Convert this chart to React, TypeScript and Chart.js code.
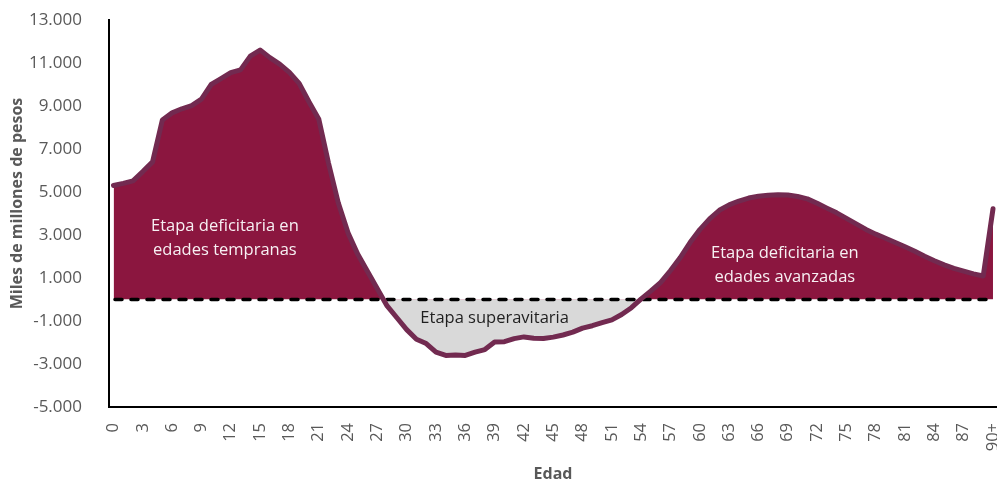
import { useEffect, useRef } from 'react';
import { Chart, registerables } from 'chart.js';

Chart.register(...registerables);

// Edad simple (0 a 90+)
const edades = [
  0, 1, 2, 3, 4, 5, 6, 7, 8, 9, 10, 11, 12, 13, 14, 15, 16, 17, 18, 19,
  20, 21, 22, 23, 24, 25, 26, 27, 28, 29, 30, 31, 32, 33, 34, 35, 36, 37, 38, 39,
  40, 41, 42, 43, 44, 45, 46, 47, 48, 49, 50, 51, 52, 53, 54, 55, 56, 57, 58, 59,
  60, 61, 62, 63, 64, 65, 66, 67, 68, 69, 70, 71, 72, 73, 74, 75, 76, 77, 78, 79,
  80, 81, 82, 83, 84, 85, 86, 87, 88, 89, 90,
];

// Déficit del ciclo de vida (miles de millones de pesos)
const saldo = [
  5300, 5400, 5520, 5950, 6400, 8350, 8680, 8870, 9020, 9320,
  10000, 10270, 10550, 10680, 11320, 11600, 11250, 10950, 10560, 10050,
  9200, 8400, 6350, 4500, 3100, 2100, 1300, 500, -300, -850,
  -1400, -1850, -2050, -2450, -2600, -2580, -2600, -2450, -2330, -1980,
  -1960, -1820, -1740, -1800, -1810, -1750, -1650, -1520, -1330, -1220,
  -1080, -950, -700, -380, 30, 400, 800, 1350, 1950, 2650,
  3250, 3750, 4150, 4400, 4580, 4720, 4800, 4850, 4870, 4860,
  4790, 4680, 4480, 4250, 4030, 3770, 3520, 3260, 3040, 2850,
  2650, 2450, 2240, 2010, 1800, 1610, 1450, 1320, 1190, 1090,
  4220,
];

// Marcas del eje X
const marcasEdad = [
  0, 3, 6, 9, 12, 15, 18, 21, 24, 27, 30, 33, 36, 39, 42, 45,
  48, 51, 54, 57, 60, 63, 66, 69, 72, 75, 78, 81, 84, 87, 90,
];
const etiquetaUltimaEdad = '90+';

// Eje Y
const yMin = -5000;
const yMax = 13000;
const yPaso = 2000;

const tituloY = 'Miles de millones de pesos';

const textos = [
  { lineas: ['Etapa deficitaria en', 'edades tempranas'], edad: 11.4, valor: 3410, color: '#F7F0F3' },
  { lineas: ['Etapa superavitaria'], edad: 39.0, valor: -870, color: '#1F1F1F' },
  { lineas: ['Etapa deficitaria en', 'edades avanzadas'], edad: 68.7, valor: 2170, color: '#F7F0F3' },
];

const FONT = "'Open Sans', 'Noto Sans', sans-serif";

function formatoMiles(v: number): string {
  const s = Math.abs(Math.round(v)).toString().replace(/\B(?=(\d{3})+(?!\d))/g, '.');
  return (v < 0 ? '-' : '') + s;
}

const lineaCero = {
  id: 'lineaCero',
  beforeDatasetsDraw(chart: any) {
    const { ctx, scales } = chart;
    const x = scales.x;
    const y = scales.y;
    const py = y.getPixelForValue(0);
    ctx.save();
    ctx.strokeStyle = '#000000';
    ctx.lineWidth = 3.5;
    ctx.lineCap = 'round';
    ctx.setLineDash([7, 9]);
    ctx.beginPath();
    ctx.moveTo(x.getPixelForValue(edades[0]) + 1.5, py);
    ctx.lineTo(x.getPixelForValue(edades[edades.length - 1]), py);
    ctx.stroke();
    ctx.restore();
  },
};

const anotaciones = {
  id: 'anotaciones',
  afterDatasetsDraw(chart: any) {
    const { ctx, scales } = chart;
    const x = scales.x;
    const y = scales.y;
    ctx.save();
    ctx.font = `16.5px ${FONT}`;
    ctx.textAlign = 'center';
    ctx.textBaseline = 'middle';
    for (const t of textos) {
      const px = x.getPixelForValue(t.edad);
      const py = y.getPixelForValue(t.valor);
      ctx.fillStyle = t.color;
      t.lineas.forEach((l, i) => ctx.fillText(l, px, py + i * 24.5));
    }
    ctx.restore();
  },
  afterDraw(chart: any) {
    const { ctx, chartArea } = chart;
    ctx.save();
    ctx.font = `bold 16px ${FONT}`;
    ctx.fillStyle = '#595959';
    ctx.textAlign = 'center';
    ctx.textBaseline = 'middle';
    ctx.translate(17, (chartArea.top + chartArea.bottom) / 2 - 10);
    ctx.rotate(-Math.PI / 2);
    ctx.fillText(tituloY, 0, 0);
    ctx.restore();
  },
};

export default function App() {
  const ref = useRef<HTMLCanvasElement | null>(null);

  useEffect(() => {
    if (!ref.current) return;
    const chart = new Chart(ref.current, {
      type: 'line',
      data: {
        datasets: [
          {
            label: 'Déficit',
            data: edades.map((e, i) => ({ x: e, y: saldo[i] })),
            borderColor: '#722A50',
            borderWidth: 5,
            borderJoinStyle: 'round',
            borderCapStyle: 'round',
            pointRadius: 0,
            pointHoverRadius: 0,
            tension: 0,
            fill: { target: 'origin', above: '#8B163F', below: '#D9D9D9' },
          },
        ],
      },
      options: {
        animation: false,
        responsive: false,
        events: [],
        layout: { padding: { top: 20, right: 0, left: 0, bottom: 0 } },
        plugins: {
          legend: { display: false },
          tooltip: { enabled: false },
          filler: { drawTime: 'beforeDatasetsDraw' } as any,
        },
        scales: {
          x: {
            type: 'linear',
            min: -0.46,
            max: 90.41,
            grid: { display: false },
            border: { display: true, color: '#000000', width: 2 },
            afterBuildTicks: (scale: any) => {
              scale.ticks = marcasEdad.map((v) => ({ value: v }));
            },
            afterFit: (scale: any) => {
              scale.height = 75;
              scale.paddingLeft = 0;
              scale.paddingRight = 0;
            },
            ticks: {
              autoSkip: false,
              minRotation: 90,
              maxRotation: 90,
              padding: 8,
              color: '#595959',
              font: { family: FONT, size: 16.5 },
              callback: (v: any) => (Number(v) === 90 ? etiquetaUltimaEdad : String(v)),
            },
            title: {
              display: true,
              text: 'Edad',
              color: '#595959',
              font: { family: FONT, size: 16, weight: 'bold', lineHeight: 1 },
              padding: { top: 0, bottom: 0 },
            },
          },
          y: {
            type: 'linear',
            min: yMin,
            max: yMax,
            grid: { display: false },
            border: { display: true, color: '#000000', width: 2 },
            afterFit: (scale: any) => {
              scale.width = 109;
              scale.paddingTop = 0;
              scale.paddingBottom = 0;
            },
            ticks: {
              stepSize: yPaso,
              padding: 19,
              color: '#595959',
              font: { family: FONT, size: 17 },
              callback: (v: any) => formatoMiles(Number(v)),
            },
          },
        },
      },
      plugins: [lineaCero, anotaciones],
    });
    return () => chart.destroy();
  }, []);

  return (
    <div style={{ position: 'absolute', left: 0, top: 0, width: 997, height: 482, background: '#fff' }}>
      <canvas ref={ref} width={997} height={482} />
    </div>
  );
}
